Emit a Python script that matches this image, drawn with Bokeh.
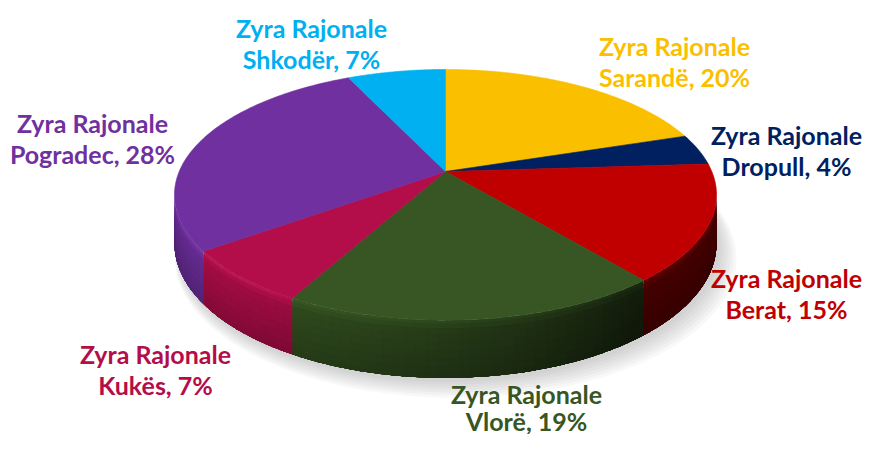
import math
from bokeh.plotting import figure
from bokeh.models import Range1d, ColumnDataSource
from bokeh.core.properties import value
from bokeh.embed import file_html
from bokeh.resources import INLINE

# ---- data ----
offices = ["Sarandë", "Dropull", "Berat", "Vlorë", "Kukës", "Pogradec", "Shkodër"]
shares = [20, 4, 15, 19, 7, 28, 7]
prefix = "Zyra Rajonale"

# ---- styles / layout ----
colors = ["#FAC000", "#002060", "#C00000", "#375623", "#B30E4A", "#7030A0", "#00B0F0"]
label_x = [674, 786, 786, 526, 155, 92, 311]
label_y1 = [45.5, 134.5, 277.5, 393, 353.5, 122.5, 27.5]
label_y2 = [76.5, 165.5, 308.5, 420, 384.5, 153.5, 58.5]

W, H = 863, 434
CX, CY = 445.0, 171.0       # apex of slices (px)
A, B, K = 266.3, 121.0, 0.186
DEPTH = 47.0


def proj(theta_deg, z=0.0):
    t = math.radians(theta_deg)
    u, v = math.sin(t), math.cos(t)
    s = 1.0 / (1.0 + K * v)
    return CX + A * u * s, CY - B * v * s + z * DEPTH * s


def mix(hexc, f):
    r, g, b = int(hexc[1:3], 16), int(hexc[3:5], 16), int(hexc[5:7], 16)
    if f <= 1:
        r, g, b = r * f, g * f, b * f
    else:
        w = min(f - 1, 1)
        r, g, b = r + (255 - r) * w, g + (255 - g) * w, b + (255 - b) * w
    return "#%02x%02x%02x" % (int(max(0, min(255, r))), int(max(0, min(255, g))), int(max(0, min(255, b))))


p = figure(width=W, height=H, x_range=Range1d(0, W), y_range=Range1d(H, 0),
           output_backend="svg", toolbar_location=None, min_border=0)
p.axis.visible = False
p.grid.visible = False
p.outline_line_color = None
p.background_fill_color = "white"

total = float(sum(shares))
bounds = [0.0]
for s in shares:
    bounds.append(bounds[-1] + 360.0 * s / total)

# ---- soft shadow ----
sh_xs, sh_ys = [], []
for i in range(7):
    grow = 1.0 + 0.006 * i
    dx, dy = 3 + 1.2 * i, 4 + 1.5 * i
    xs, ys = [], []
    for d in range(0, 361, 3):
        x, y = proj(d, 1.0)
        xs.append(CX + (x - CX) * grow + dx)
        ys.append(CY + 16 + (y - CY - 16) * grow + dy)
    sh_xs.append(xs)
    sh_ys.append(ys)
p.patches(xs=sh_xs, ys=sh_ys, fill_color="#7a7a7a", fill_alpha=0.05, line_color=None)

# ---- side walls (bands overlap downward, segments overlap sideways: no seams) ----
lim = math.degrees(math.acos(-K))
vis_a, vis_b = lim, 360 - lim
Lx, Ly = -0.8, -0.6
bands = [0.0, 0.06, 0.14, 0.25, 0.38, 0.52, 0.66, 0.8, 0.92]
wx, wy, wc = [], [], []
for b, z0 in enumerate(bands):
    zn = bands[b + 1] if b + 1 < len(bands) else 1.0
    zm = (z0 + zn) / 2
    for i in range(len(shares)):
        a0, a1 = max(bounds[i], vis_a), min(bounds[i + 1], vis_b)
        if a1 <= a0:
            continue
        n = max(1, int(math.ceil((a1 - a0) / 2.0)))
        for j in range(n):
            t0 = a0 + (a1 - a0) * j / n
            t1 = a0 + (a1 - a0) * (j + 1) / n
            t1e = min(a1, t1 + 0.6)
            tm = math.radians((t0 + t1) / 2)
            d = max(0.0, math.sin(tm) * Lx + math.cos(tm) * Ly)
            f = (0.36 + 0.58 * d) * (1 - 0.22 * zm)
            if b == 0:
                f += 0.12
            elif b == 1:
                f += 0.06
            xs, ys = [], []
            for tt in (t0, (t0 + t1e) / 2, t1e):
                x, y = proj(tt, z0); xs.append(x); ys.append(y)
            for tt in (t1e, (t0 + t1e) / 2, t0):
                x, y = proj(tt, 1.0); xs.append(x); ys.append(y)
            wx.append(xs); wy.append(ys); wc.append(mix(colors[i], f))
p.patches(xs=wx, ys=wy, fill_color=wc, line_color=None)

# ---- top face ----
tx, ty = [], []
for i in range(len(shares)):
    a0, a1 = bounds[i], bounds[i + 1]
    n = max(2, int(math.ceil(a1 - a0)))
    xs, ys = [CX], [CY]
    for j in range(n + 1):
        x, y = proj(a0 + (a1 - a0) * j / n, 0.0)
        xs.append(x); ys.append(y)
    tx.append(xs); ty.append(ys)
p.patches(xs=tx, ys=ty, fill_color=colors, line_color=colors, line_width=0.6)

# ---- labels ----
l1 = ColumnDataSource(dict(x=label_x, y=label_y1, t=[prefix] * len(offices), c=colors))
l2 = ColumnDataSource(dict(x=label_x, y=label_y2,
                           t=["%s, %d%%" % (o, s) for o, s in zip(offices, shares)], c=colors))
for src in (l1, l2):
    p.text(x="x", y="y", text="t", text_color="c", source=src, text_font=value("Lato"),
           text_font_style="bold", text_font_size="25px", text_align="center", text_baseline="middle")

open("out.html", "w").write(file_html(p, INLINE))
